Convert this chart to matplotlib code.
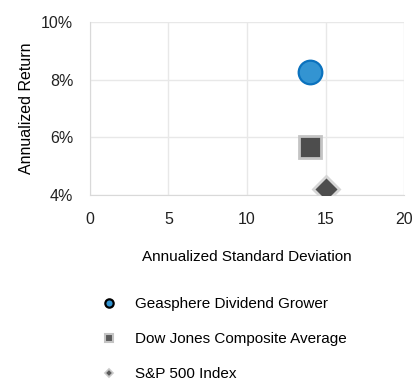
import matplotlib.pyplot as plt
from matplotlib.lines import Line2D
from matplotlib.ticker import FuncFormatter

# //--------------------------< data >--------------------------\\

names = ['Geasphere Dividend Grower', 'Dow Jones Composite Average', 'S&P 500 Index']
std_dev = [14.0, 14.0, 15.0]
ann_return = [8.27, 5.65, 4.2]

x_ticks = [0, 5, 10, 15, 20]
y_ticks = [4, 6, 8, 10]

# //--------------------------< plot >--------------------------\\

plt.rcParams['font.family'] = ['Liberation Sans', 'DejaVu Sans']

fig = plt.figure(figsize=(4.14, 3.83), dpi=100)
ax = fig.add_axes([0.217, 0.491, 0.759, 0.452])

ax.plot(std_dev[0], ann_return[0], 'o', ms=17, mfc='#3394D2', mec='#0B72BE', mew=1.6, zorder=3)
ax.plot(std_dev[1], ann_return[1], 's', ms=16, mfc='#4D4D4D', mec='#C4C4C4', mew=2, zorder=3)
ax.plot(std_dev[2], ann_return[2], 'D', ms=13, mfc='#4D4D4D', mec='#D6D6D6', mew=2, zorder=3)

ax.set_xlim(0, 20)
ax.set_ylim(4, 10)
ax.set_xticks(x_ticks)
ax.set_yticks(y_ticks)
ax.yaxis.set_major_formatter(FuncFormatter(lambda v, p: '%d%%' % v))
ax.tick_params(length=0, labelsize=11.5, colors='#222222')
ax.tick_params(axis='y', pad=12)
ax.tick_params(axis='x', pad=12.5)
ax.grid(True, color='#E8E8E8', linewidth=1)
ax.set_axisbelow(True)
for s in ['top', 'right']:
    ax.spines[s].set_visible(False)
for s in ['left', 'bottom']:
    ax.spines[s].set_color('#D9D9D9')

ax.set_xlabel('Annualized Standard Deviation', fontsize=11, labelpad=16)
ax.set_ylabel('Annualized Return', fontsize=11.5, labelpad=5)

handles = [
    Line2D([], [], ls='', marker='o', ms=6, mfc='#3394D2', mec='black', mew=1.6),
    Line2D([], [], ls='', marker='s', ms=6, mfc='#5A5A5A', mec='#C4C4C4', mew=1.5),
    Line2D([], [], ls='', marker='D', ms=4.5, mfc='#5A5A5A', mec='#C8C8C8', mew=1.2),
]
fig.legend(handles, names, loc='upper left', bbox_to_anchor=(0.221, 0.24),
           frameon=False, fontsize=11, labelspacing=1.38, handletextpad=0.95,
           handlelength=1.5, borderaxespad=0)

fig.savefig('out.png', dpi=100)
